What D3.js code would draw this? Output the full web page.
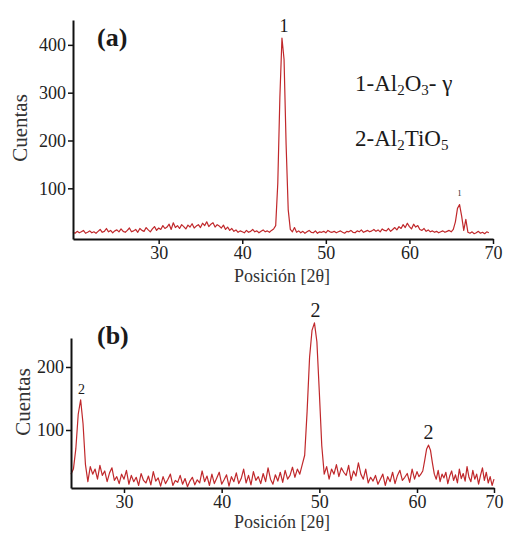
<!DOCTYPE html>
<html>
<head>
<meta charset="utf-8">
<script src="https://cdn.jsdelivr.net/npm/d3@7"></script>
<style>
    body { margin: 0; background: #fff; }
    svg text { font-family: "Liberation Serif", "Times New Roman", serif; fill: #1a1a1a; }
</style>
</head>
<body>
<div id="chart"></div>
<script>
// panel (a): counts every 0.25 deg starting at 19.75
var startA = 19.75, stepA = 0.25;
var countsA = [
    8, 6, 10, 7, 9, 12, 6, 8, 11, 7, 9, 6, 10,
    14, 8, 10, 16, 9, 12, 7, 11, 13, 9, 15, 10, 8, 12, 17, 9,
    11, 14, 8, 16, 12, 10, 18, 13, 9, 15, 20, 12, 17, 14, 22, 16,
    19, 25, 14, 28, 18, 22, 16, 24, 20, 15, 23, 19, 26, 17, 21, 24,
    18, 27, 22, 30, 20, 25, 28, 19, 24, 21, 17, 23, 14, 19, 12, 16,
    10, 13, 8, 11, 9, 7, 12, 8, 10, 14, 9, 11, 7, 10, 13, 9,
    11, 8, 12, 15, 22, 110, 290, 414, 370, 190, 55, 14, 9, 18, 8, 11,
    7, 10, 6, 9, 12, 8, 7, 11, 6, 9, 8, 10, 7, 12, 9, 8,
    10, 7, 9, 11, 8, 6, 10, 9, 12, 8, 7, 11, 9, 13, 8, 10,
    12, 9, 11, 14, 10, 13, 9, 15, 12, 11, 16, 10, 14, 18, 13, 20,
    16, 24, 18, 27, 20, 15, 25, 19, 22, 14, 12, 16, 10, 13, 9, 11,
    8, 10, 7, 9, 11, 8, 10, 12, 9, 14, 30, 58, 66, 42, 12, 35,
    8, 6, 9, 5, 7, 10, 6, 8, 5, 9, 7
];
var xTicksA = [30, 40, 50, 60, 70];
var yTicksA = [100, 200, 300, 400];
var peakLabelsA = [{pos: 45.0, count: 414, text: "1", size: 18}];

// panel (b): counts every 0.25 deg starting at 24.5
var startB = 24.5, stepB = 0.25;
var countsB = [
    30, 38,
    70, 125, 148, 110,
    45, 18, 42, 30,
    38, 22, 44, 28, 35, 18, 32, 40, 20, 26, 15, 30,
    22, 36, 14, 28, 18, 25, 12, 31, 20, 16, 27, 13, 34, 19, 24, 11,
    26, 15, 22, 30, 12, 20, 17, 28, 14, 23, 10, 19, 25, 13, 21, 16,
    35, 18, 27, 12, 30, 15, 24, 33, 14, 21, 29, 11, 26, 18, 32, 15,
    23, 38, 16, 28, 13, 34, 20, 26, 15, 31, 18, 40, 22, 14, 29, 19,
    33, 17, 36, 22, 28, 41, 25, 38, 30, 45,
    60, 130, 215, 258, 270, 240, 160, 75, 30, 42, 22, 38,
    30, 45, 26, 40, 33, 28, 44, 20, 35, 27, 48, 30, 22, 38, 16, 25, 19, 28,
    14, 22, 30, 12, 26, 18, 33, 15, 28, 36, 20, 25, 31, 17, 38, 22, 34, 26, 30, 35,
    52, 70, 76, 68, 48, 30, 22,
    36, 18, 30, 24, 33, 15, 27, 35, 20, 29, 16, 38, 23, 31, 19, 42, 25,
    18, 36, 22, 30, 14, 28, 40, 20, 33, 16, 26, 12, 22
];
var xTicksB = [30, 40, 50, 60, 70];
var yTicksB = [100, 200];
var peakLabelsB = [
    {pos: 25.6, count: 148, text: "2", size: 14},
    {pos: 49.6, count: 270, text: "2", size: 20},
    {pos: 61.5, count: 76, text: "2", size: 20}
];

var width = 506, height = 533;
var lineColor = "#c0282b";

var svg = d3.select("#chart").append("svg")
    .attr("width", width)
    .attr("height", height);

function toPoints(start, step, counts) {
    return counts.map(function(c, i) { return {pos: start + i * step, count: c}; });
}

function drawPanel(opts) {
    var g = svg.append("g");
    var x = opts.x, y = opts.y;
    var data = toPoints(opts.start, opts.step, opts.counts);

    var line = d3.line()
        .x(function(d) { return x(d.pos); })
        .y(function(d) { return y(d.count); });

    g.append("path")
        .datum(data)
        .attr("fill", "none")
        .attr("stroke", lineColor)
        .attr("stroke-width", 1.2)
        .attr("stroke-linejoin", "round")
        .attr("d", line);

    var y0 = y.range()[0];
    var x0 = x.range()[0];

    var xAxis = g.append("g")
        .attr("transform", "translate(0," + y0 + ")")
        .call(d3.axisBottom(x).tickValues(opts.xTicks).tickSize(5).tickSizeOuter(0).tickPadding(2));
    var yAxis = g.append("g")
        .attr("transform", "translate(" + x0 + ",0)")
        .call(d3.axisLeft(y).tickValues(opts.yTicks).tickSize(5).tickSizeOuter(0).tickPadding(2));

    [xAxis, yAxis].forEach(function(ax) {
        ax.select(".domain").attr("stroke", "#111").attr("stroke-width", 2);
        ax.selectAll(".tick line").attr("stroke", "#111").attr("stroke-width", 1.5);
        ax.selectAll(".tick text")
            .attr("font-size", 18)
            .style("fill", "#222");
    });

    g.selectAll(".peak")
        .data(opts.peaks)
        .enter().append("text")
            .attr("x", function(d) { return x(d.pos); })
            .attr("y", function(d) { return y(d.count) - 6; })
            .attr("text-anchor", "middle")
            .attr("font-size", function(d) { return d.size; })
            .text(function(d) { return d.text; });

    g.append("text")
        .attr("x", opts.tagX)
        .attr("y", opts.tagY)
        .attr("font-size", 26)
        .attr("font-weight", "bold")
        .text(opts.tag);

    g.append("text")
        .attr("transform", "translate(" + opts.ylabX + "," + opts.ylabY + ") rotate(-90)")
        .attr("text-anchor", "middle")
        .attr("font-size", 21)
        .style("fill", "#333")
        .text("Cuentas");

    g.append("text")
        .attr("x", 282)
        .attr("y", opts.xlabY)
        .attr("text-anchor", "middle")
        .attr("font-size", 18)
        .style("fill", "#333")
        .text("Posición [2θ]");

    return g;
}

var xA = d3.scaleLinear().domain([19.75, 70]).range([73, 493]);
var yA = d3.scaleLinear().domain([-6, 452]).range([239, 20]);

var gA = drawPanel({
    x: xA, y: yA, start: startA, step: stepA, counts: countsA,
    xTicks: xTicksA, yTicks: yTicksA, peaks: peakLabelsA,
    tag: "(a)", tagX: 97, tagY: 46,
    ylabX: 27, ylabY: 128, xlabY: 282
});

// small label at the 66 deg peak, mostly hidden in the original
gA.append("text")
    .attr("x", xA(66.0))
    .attr("y", yA(66) - 9)
    .attr("text-anchor", "middle")
    .attr("font-size", 8)
    .text("1");

// phase legend
var legend = gA.append("g").attr("font-size", 23);
var l1 = legend.append("text").attr("x", 355).attr("y", 91);
l1.append("tspan").text("1-Al");
l1.append("tspan").attr("font-size", 15).attr("dy", 4).text("2");
l1.append("tspan").attr("dy", -4).text("O");
l1.append("tspan").attr("font-size", 15).attr("dy", 4).text("3");
l1.append("tspan").attr("dy", -4).text("- γ");

var l2 = legend.append("text").attr("x", 355).attr("y", 146);
l2.append("tspan").text("2-Al");
l2.append("tspan").attr("font-size", 15).attr("dy", 4).text("2");
l2.append("tspan").attr("dy", -4).text("TiO");
l2.append("tspan").attr("font-size", 15).attr("dy", 4).text("5");

// panel (b) axis is not evenly spaced in the original image
var xB = d3.scaleLinear().domain([24.5, 30, 60, 70]).range([71, 124, 417, 494]);
var yB = d3.scaleLinear().domain([8, 246]).range([488, 338]);

drawPanel({
    x: xB, y: yB, start: startB, step: stepB, counts: countsB,
    xTicks: xTicksB, yTicks: yTicksB, peaks: peakLabelsB,
    tag: "(b)", tagX: 97, tagY: 344,
    ylabX: 30, ylabY: 402, xlabY: 528
});
</script>
</body>
</html>
